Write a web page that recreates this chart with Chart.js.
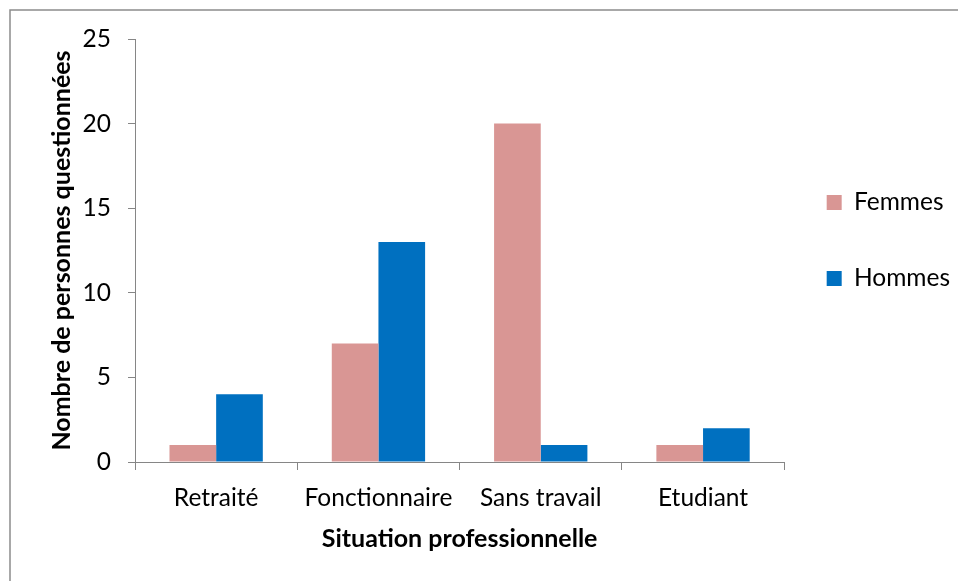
<!DOCTYPE html>
<html>
<head>
<meta charset="utf-8">
<script src="https://cdn.jsdelivr.net/npm/chart.js@4"></script>
<style>
    body { margin: 0; background: #fff; }
    #chart-container { width: 958px; height: 581px; }
</style>
</head>
<body>
<div id="chart-container"><canvas id="chart"></canvas></div>
<script>
const categories = ["Retraité", "Fonctionnaire", "Sans travail", "Etudiant"];
const femmes = [1, 7, 20, 1];
const hommes = [4, 13, 1, 2];
const yTicks = [0, 5, 10, 15, 20, 25];

const axisColor = "#868686";
const fontFamily = "Lato, 'Open Sans', sans-serif";

// outer frame of the chart sheet
const framePlugin = {
    id: "frame",
    beforeDraw(chart) {
        const ctx = chart.ctx;
        ctx.save();
        ctx.fillStyle = "#fff";
        ctx.fillRect(0, 0, chart.width, chart.height);
        ctx.strokeStyle = "#8c8c8c";
        ctx.lineWidth = 1.5;
        ctx.beginPath();
        ctx.moveTo(10, chart.height);
        ctx.lineTo(10, 10);
        ctx.lineTo(chart.width, 10);
        ctx.stroke();
        ctx.restore();
    }
};

// nudge the legend block up and to the left
const legendShift = {
    id: "legendShift",
    afterLayout(chart) {
        const lg = chart.legend;
        lg.top -= 10;
        lg.bottom -= 10;
        lg.left -= 9;
        lg.right -= 9;
    }
};

new Chart(document.getElementById("chart"), {
    type: "bar",
    data: {
        labels: categories,
        datasets: [{
            label: "Femmes",
            data: femmes,
            backgroundColor: "#D99694",
            barPercentage: 1,
            categoryPercentage: 0.575
        }, {
            label: "Hommes",
            data: hommes,
            backgroundColor: "#0070C0",
            barPercentage: 1,
            categoryPercentage: 0.575
        }]
    },
    options: {
        responsive: true,
        maintainAspectRatio: false,
        animation: false,
        layout: { padding: { left: 10, top: 39, right: -11, bottom: 0 } },
        plugins: {
            tooltip: { enabled: false },
            legend: {
                position: "right",
                fullSize: false,
                labels: {
                    boxWidth: 15,
                    boxHeight: 15,
                    padding: 51.5,
                    color: "#000",
                    font: { family: fontFamily, size: 24.5 }
                }
            }
        },
        scales: {
            x: {
                offset: true,
                afterFit: (scale) => { scale.height = 119; },
                grid: {
                    display: true,
                    offset: true,
                    drawOnChartArea: false,
                    drawTicks: true,
                    tickLength: 8,
                    color: axisColor
                },
                border: { color: axisColor, width: 1 },
                ticks: {
                    color: "#000",
                    padding: 13,
                    maxRotation: 0,
                    font: { family: fontFamily, size: 24.5 }
                },
                title: {
                    display: true,
                    text: "Situation professionnelle",
                    color: "#000",
                    padding: { top: 0, bottom: 27 },
                    font: { family: fontFamily, size: 25, weight: "bold" }
                }
            },
            y: {
                min: 0,
                max: 25,
                afterFit: (scale) => { scale.width = 125; },
                afterBuildTicks: (scale) => { scale.ticks = yTicks.map(v => ({ value: v })); },
                grid: {
                    display: true,
                    drawOnChartArea: false,
                    drawTicks: true,
                    tickLength: 7,
                    color: axisColor
                },
                border: { color: axisColor, width: 1 },
                ticks: {
                    color: "#000",
                    padding: 17,
                    font: { family: fontFamily, size: 24.5 }
                },
                title: {
                    display: true,
                    text: "Nombre de personnes questionnées",
                    color: "#000",
                    padding: { top: 37, bottom: 0 },
                    font: { family: fontFamily, size: 25, weight: "bold" }
                }
            }
        }
    },
    plugins: [framePlugin, legendShift]
});
</script>
</body>
</html>
